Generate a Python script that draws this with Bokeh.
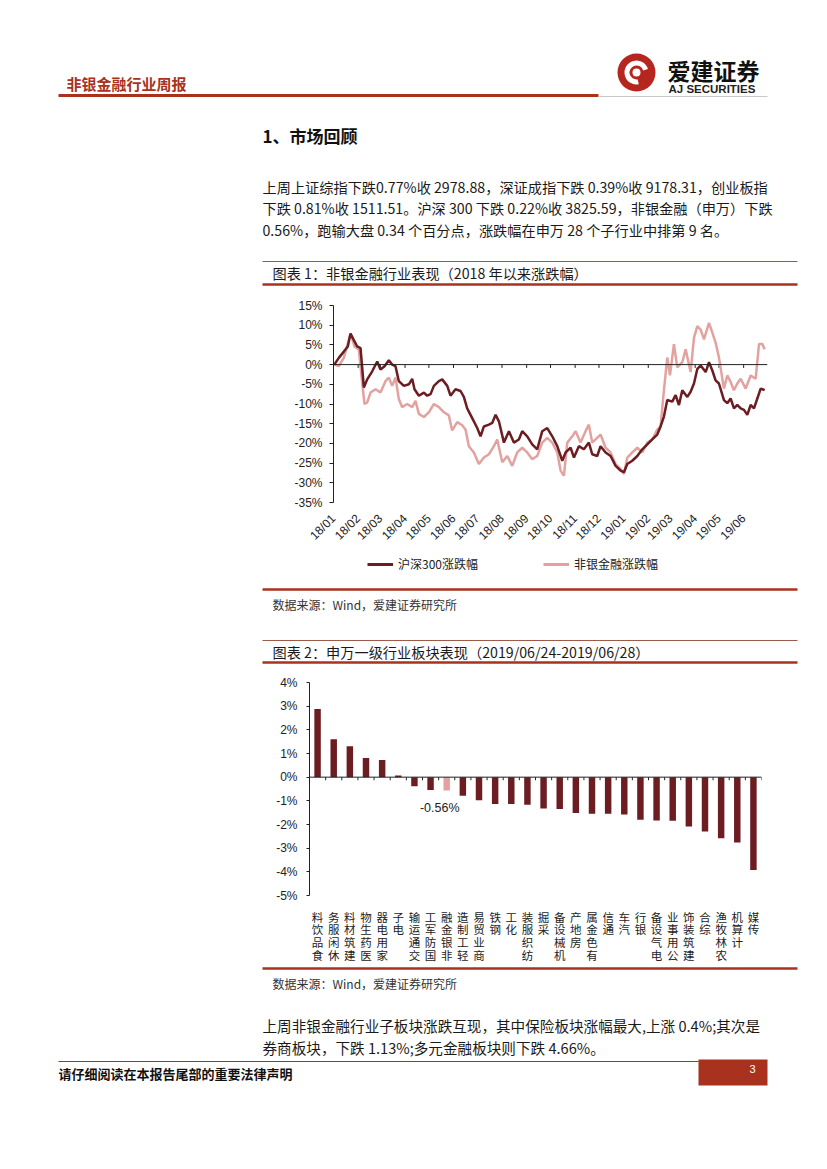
import math
import pandas as pd
from bokeh.plotting import figure
from bokeh.layouts import column
from bokeh.models import (Range1d, FixedTicker, DatetimeTickFormatter, Span,
                          Legend, LegendItem)
from bokeh.core.properties import value
from bokeh.embed import file_html
from bokeh.resources import INLINE

CJK = "Noto Sans CJK SC"
LAT = "Liberation Sans"
RED = "#a8321e"
DARK = "#6b1d22"
PINK = "#e3a2a0"
W = 827

# ---------------- data: chart 1 (readings, % change since 2018-01-02) -----
base_date = "2018-01-01"          # readings are given as days after this date
hs300_day = [1, 6.7, 13.0, 18.0, 21.4, 25.6, 29.8, 34.0, 38.2, 42.4, 48.7, 55.0,
             59.1, 64.2, 69.6, 73.8, 78.0, 82.2, 88.5, 94.8, 99.0, 101.9, 107.4,
             113.7, 117.9, 122.1, 126.3, 132.6, 136.8, 143.1, 147.2, 153.5, 159.8,
             164.0, 168.2, 174.5, 180.8, 185.0, 189.2, 195.5, 199.7, 203.9, 208.1,
             214.4, 220.7, 226.9, 233.2, 237.4, 243.7, 250.0, 256.3, 262.6, 268.9,
             275.2, 281.5, 287.8, 292.0, 298.3, 302.5, 308.7, 315.0, 321.3, 325.5,
             331.8, 336.0, 342.3, 348.6, 354.9, 361.2, 365.4, 369.6, 375.9, 382.2,
             388.5, 394.8, 401.0, 407.3, 411.5, 415.7, 419.9, 426.2, 430.4, 434.6,
             438.8, 445.1, 449.3, 453.5, 457.7, 461.9, 468.2, 472.4, 476.6, 480.7,
             484.9, 491.2, 495.4, 499.6, 503.8, 508.0, 512.2, 516.4, 520.6, 524.8,
             529.0, 533.2, 537.4, 542.4]
hs300_pct = [0.0, 1.7, 3.3, 4.6, 7.9, 6.2, 4.6, 4.2, -5.8, -3.75, -1.7, 0.8,
             -1.25, -0.4, 1.1, 0.0, -0.4, -4.2, -5.4, -5.0, -3.6, -6.25, -7.9,
             -7.1, -7.9, -7.5, -5.4, -4.2, -3.75, -5.4, -7.9, -6.25, -6.7,
             -8.2, -11.1, -13.6, -16.1, -18.2, -15.7, -15.25, -14.8, -12.75, -14.4,
             -19.8, -16.9, -19.8, -19.0, -16.9, -18.2, -20.25, -21.5, -16.9, -16.1,
             -18.2, -20.7, -24.4, -22.3, -21.1, -23.6, -20.7, -21.5, -19.8, -22.75,
             -23.2, -20.7, -22.3, -23.2, -25.7, -26.9, -27.3, -25.25, -24.4, -23.2,
             -21.5, -20.25, -19.0, -17.75, -15.7, -13.2, -9.0, -9.4, -7.75, -10.25,
             -6.5, -8.2, -6.9, -4.8, -1.1, -0.25, -1.9, 0.6, -1.5, -4.0,
             -4.8, -9.0, -9.8, -8.6, -11.1, -10.25, -11.1, -11.5, -12.75, -10.25,
             -11.1, -8.6, -6.1, -6.5]
nonbank_day = [1, 6.7, 13.0, 18.0, 21.4, 26.4, 31.9, 36.1, 39.0, 42.4, 46.6, 52.9,
               59.1, 65.4, 69.6, 73.8, 78.0, 82.2, 86.4, 92.7, 99.0, 103.2, 107.4,
               113.7, 120.0, 126.3, 132.6, 138.9, 145.1, 149.3, 155.6, 161.9,
               166.1, 170.3, 176.6, 182.9, 189.2, 195.5, 201.8, 206.0, 212.3, 218.6,
               224.9, 231.1, 237.4, 243.7, 250.0, 256.3, 262.6, 268.9, 275.2, 281.5,
               285.7, 289.9, 294.1, 300.4, 304.6, 310.8, 317.1, 321.3, 325.5, 329.7,
               336.0, 342.3, 348.6, 354.9, 361.2, 365.4, 369.6, 375.9, 382.2, 388.5,
               394.8, 401.0, 407.3, 411.5, 415.7, 419.9, 423.3, 428.3, 432.5, 438.8,
               443.0, 449.3, 453.5, 457.7, 461.9, 466.1, 472.4, 476.6, 480.7, 484.9,
               491.2, 495.4, 499.6, 503.8, 508.0, 512.2, 518.5, 524.8, 531.1, 535.3,
               539.5, 542.4]
nonbank_pct = [0.0, -0.4, 1.7, 5.4, 7.9, 4.6, 3.75, -4.6, -10.0, -9.6, -7.1, -6.25,
               -7.1, -4.2, -3.3, -5.4, -3.3, -8.75, -10.8, -10.0, -10.8, -9.2, -12.5,
               -13.3, -12.1, -10.0, -10.8, -12.1, -12.9, -16.7, -14.6, -15.4,
               -16.5, -20.7, -22.3, -25.25, -23.6, -22.75, -20.7, -19.0, -24.8, -23.2,
               -25.7, -22.3, -21.1, -22.3, -24.0, -23.2, -19.8, -18.6, -19.8, -22.3,
               -26.9, -28.2, -19.8, -18.2, -16.9, -19.8, -16.9, -15.25, -19.8, -19.0,
               -17.75, -21.1, -22.3, -25.25, -26.5, -27.75, -23.6, -22.3, -21.1, -22.3,
               -19.8, -19.0, -16.5, -15.7, -6.5, 1.8, -2.75, 5.2, -0.7, 0.6,
               3.9, -1.9, 6.8, 9.75, 8.9, 6.4, 10.6, 8.1, 5.6, 1.8,
               -6.1, -2.75, -4.4, -6.5, -4.8, -3.6, -6.1, -2.75, -3.6, 5.2,
               5.2, 3.9]
series_names = ["沪深300涨跌幅", "非银金融涨跌幅"]
month_ticks = list(pd.date_range("2018-01-01", "2019-06-01", freq="MS"))
y1_ticks = [-35, -30, -25, -20, -15, -10, -5, 0, 5, 10, 15]

# ---------------- data: chart 2 ----------------
industries = ["食品饮料", "休闲服务", "建筑材料", "医药生物", "家用电器", "电子",
              "交通运输", "国防军工", "非银金融", "轻工制造", "商业贸易", "钢铁",
              "化工", "纺织服装", "采掘", "机械设备", "房地产", "有色金属", "通信",
              "汽车", "银行", "电气设备", "公用事业", "建筑装饰", "综合", "农林牧渔",
              "计算机", "传媒"]
changes = [2.88, 1.60, 1.31, 0.81, 0.73, 0.07, -0.38, -0.54, -0.56, -0.78,
           -0.98, -1.13, -1.13, -1.17, -1.32, -1.34, -1.51, -1.55, -1.55, -1.58,
           -1.80, -1.83, -1.84, -2.08, -2.30, -2.58, -2.76, -3.92]
highlight = "非银金融"
y2_ticks = [-5, -4, -3, -2, -1, 0, 1, 2, 3, 4]

# ---------------- page texts ----------------
header_title = "非银金融行业周报"
section_title = "1、市场回顾"
para1 = ["上周上证综指下跌0.77%收 2978.88，深证成指下跌 0.39%收 9178.31，创业板指",
         "下跌 0.81%收 1511.51。沪深 300 下跌 0.22%收 3825.59，非银金融（申万）下跌",
         "0.56%，跑输大盘 0.34 个百分点，涨跌幅在申万 28 个子行业中排第 9 名。"]
chart1_title = "图表 1：非银金融行业表现（2018 年以来涨跌幅）"
chart2_title = "图表 2：申万一级行业板块表现（2019/06/24-2019/06/28）"
source = "数据来源：Wind，爱建证券研究所"
para2 = ["上周非银金融行业子板块涨跌互现，其中保险板块涨幅最大,上涨 0.4%;其次是",
         "券商板块，下跌 1.13%;多元金融板块则下跌 4.66%。"]
footer = "请仔细阅读在本报告尾部的重要法律声明"


def no_align(p):
    try:
        p.frame_align = False
    except Exception:
        pass


def page_fig(y0, y1):
    p = figure(width=W, height=int(y1 - y0), x_range=Range1d(0, W),
               y_range=Range1d(y1, y0), output_backend="svg",
               toolbar_location=None, min_border=0,
               x_axis_location=None, y_axis_location=None)
    p.grid.visible = False
    p.outline_line_color = None
    no_align(p)
    return p


def txt(p, x, y, s, size, color="#1a1a1a", font=CJK, style="normal",
        align="left", baseline="middle"):
    p.text(x=[x], y=[y], text=[s], text_font=value(font),
           text_font_size=f"{size}px", text_color=color,
           text_font_style=style, text_align=align, text_baseline=baseline)


def hline(p, x0, x1, y, color, width):
    p.segment(x0=[x0], y0=[y], x1=[x1], y1=[y], line_color=color,
              line_width=width)


# ---------------- A: header + text + chart 1 title ----------------
A = page_fig(0, 297)
txt(A, 66, 83, header_title, 15, color=RED, style="bold")
hline(A, 58, 598, 95, RED, 3)
hline(A, 598, 767, 96, "#c8c8c8", 1)
A.circle(x=[636], y=[72], radius=19, fill_color="#b5261e", line_color=None)
A.annular_wedge(x=[636], y=[72], inner_radius=7, outer_radius=12,
                start_angle=0.3, end_angle=4.9, fill_color="white",
                line_color=None)
A.circle(x=[636], y=[72], radius=4, fill_color="white", line_color=None)
txt(A, 667, 69, "爱建证券", 23, color="#111", style="bold")
txt(A, 668, 88, "AJ SECURITIES", 11.5, color="#222", font=LAT, style="bold")
txt(A, 262, 135, section_title, 17, color="#111", style="bold")
for i, line in enumerate(para1):
    txt(A, 262, 186 + i * 21.5, line, 14.2, color="#1a1a1a")
hline(A, 262, 797, 261, "#9c5a48", 1)
txt(A, 272, 272, chart1_title, 14.2, color="#1a1a1a")
hline(A, 262, 797, 284, RED, 2.5)

# ---------------- B: chart 1 ----------------
start = pd.Timestamp(base_date)
hs_dates = [start + pd.Timedelta(days=d) for d in hs300_day]
nb_dates = [start + pd.Timedelta(days=d) for d in nonbank_day]

B = figure(width=W, height=253, x_axis_type="datetime",
           x_range=Range1d(pd.Timestamp("2018-01-01"), pd.Timestamp("2019-07-01")),
           y_range=Range1d(-35, 15), output_backend="svg", toolbar_location=None,
           min_border_left=333, min_border_right=60, min_border_top=8,
           min_border_bottom=45)
no_align(B)
B.grid.visible = False
B.outline_line_color = None
B.add_layout(Span(location=0, dimension="width", line_color="#222",
                  line_width=1))
B.segment(x0=month_ticks, y0=[0] * len(month_ticks), x1=month_ticks,
          y1=[-0.85] * len(month_ticks), line_color="#222", line_width=1)
B.line(nb_dates, nonbank_pct, line_color=PINK, line_width=2.5)
B.line(hs_dates, hs300_pct, line_color=DARK, line_width=2.5)

B.yaxis.ticker = FixedTicker(ticks=y1_ticks)
B.yaxis.major_label_overrides = {v: f"{v}%" for v in y1_ticks}
B.yaxis.minor_tick_line_color = None
B.yaxis.major_tick_in = 0
B.yaxis.major_tick_out = 4
B.yaxis.axis_line_color = "#222"
B.yaxis.major_tick_line_color = "#222"
B.yaxis.major_label_standoff = 7
B.yaxis.major_label_text_font = LAT
B.yaxis.major_label_text_font_size = "12px"
B.yaxis.major_label_text_color = "#222"

B.xaxis.ticker = FixedTicker(ticks=[t.timestamp() * 1000 for t in month_ticks])
B.xaxis.formatter = DatetimeTickFormatter(days="%y/%m", months="%y/%m",
                                          years="%y/%m")
B.xaxis.axis_line_color = None
B.xaxis.major_tick_line_color = None
B.xaxis.minor_tick_line_color = None
B.xaxis.major_label_orientation = math.pi / 4
B.xaxis.major_label_standoff = 8
B.xaxis.major_label_text_font = LAT
B.xaxis.major_label_text_font_size = "12px"
B.xaxis.major_label_text_color = "#222"

# ---------------- C: legend + source + chart 2 title ----------------
C = page_fig(550, 672)
nan = float("nan")
k_dark = C.line(x=[nan], y=[nan], line_color=DARK, line_width=3)
k_light = C.line(x=[nan], y=[nan], line_color=PINK, line_width=3)
legend = Legend(items=[LegendItem(label=series_names[0], renderers=[k_dark]),
                       LegendItem(label=series_names[1], renderers=[k_light])],
                location=(367, 100), orientation="horizontal",
                glyph_width=26, glyph_height=16, label_standoff=5, spacing=65,
                padding=0, margin=0, border_line_color=None,
                background_fill_alpha=0, label_text_font=CJK,
                label_text_font_size="12px", label_text_color="#222")
C.add_layout(legend)
hline(C, 262, 797, 589, RED, 2.5)
txt(C, 272, 604, source, 12, color="#333")
hline(C, 262, 797, 640, "#9c5a48", 1)
txt(C, 272, 651, chart2_title, 14.2, color="#1a1a1a")
hline(C, 262, 797, 662, RED, 2.5)

# ---------------- D: chart 2 ----------------
n = len(industries)
xs = list(range(n))
colors = [PINK if c == highlight else DARK for c in industries]
D = figure(width=W, height=293, x_range=Range1d(-0.5, n - 0.5),
           y_range=Range1d(-5, 4), output_backend="svg", toolbar_location=None,
           min_border_left=309, min_border_right=66, min_border_top=10,
           min_border_bottom=69)
no_align(D)
D.grid.visible = False
D.outline_line_color = None
D.vbar(x=xs, top=changes, bottom=0, width=0.4, fill_color=colors,
       line_color=None)
D.add_layout(Span(location=0, dimension="width", line_color="#222",
                  line_width=1))
bounds = [i + 0.5 for i in xs]
D.segment(x0=bounds, y0=[0] * n, x1=bounds, y1=[-0.13] * n,
          line_color="#222", line_width=1)
hi = industries.index(highlight)
D.text(x=[hi], y=[changes[hi]], text=[f"{changes[hi]:.2f}%"],
       text_font=value(LAT), text_font_size="12.5px", text_color="#222",
       text_align="center", text_baseline="middle", x_offset=-7, y_offset=18)

D.yaxis.ticker = FixedTicker(ticks=y2_ticks)
D.yaxis.major_label_overrides = {v: f"{v}%" for v in y2_ticks}
D.yaxis.minor_tick_line_color = None
D.yaxis.major_tick_in = 0
D.yaxis.major_tick_out = 3
D.yaxis.axis_line_color = "#222"
D.yaxis.major_tick_line_color = "#222"
D.yaxis.major_label_standoff = 9
D.yaxis.major_label_text_font = LAT
D.yaxis.major_label_text_font_size = "12px"
D.yaxis.major_label_text_color = "#222"

D.xaxis.ticker = FixedTicker(ticks=xs)
D.xaxis.major_label_overrides = {i: "\n".join(reversed(c))
                                 for i, c in enumerate(industries)}
D.xaxis.axis_line_color = None
D.xaxis.major_tick_line_color = None
D.xaxis.minor_tick_line_color = None
D.xaxis.major_label_standoff = 7
D.xaxis.major_label_text_font = CJK
D.xaxis.major_label_text_font_size = "11.5px"
D.xaxis.major_label_text_color = "#222"
D.xaxis.major_label_text_line_height = 0.8

# ---------------- E: source + text + footer ----------------
E = page_fig(965, 1169)
hline(E, 262, 797, 968, RED, 2.5)
txt(E, 272, 983, source, 12, color="#333")
for i, line in enumerate(para2):
    txt(E, 262, 1025 + i * 22, line, 14.6, color="#1a1a1a")
hline(E, 58, 698, 1061, RED, 1)
E.quad(left=[698], right=[767], top=[1059], bottom=[1085], fill_color=RED,
       line_color=None)
txt(E, 752, 1068, "3", 11, color="white", font=LAT, align="center")
txt(E, 58, 1073, footer, 13, color="#111", style="bold")

page = column(A, B, C, D, E, spacing=0)
open("out.html", "w").write(file_html(page, INLINE))
